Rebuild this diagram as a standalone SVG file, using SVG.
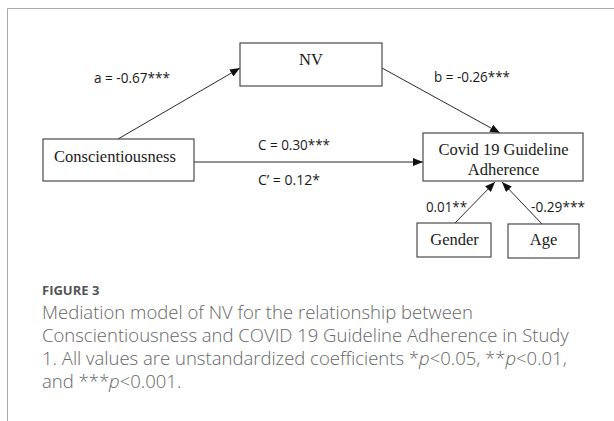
<svg xmlns="http://www.w3.org/2000/svg" width="614" height="421" viewBox="0 0 614 421">
<defs>
<style>
.box{fill:#fff;stroke:#4a4a4a;stroke-width:1.2}
.node{font-family:"Liberation Serif","Times New Roman",serif;font-size:16.5px;fill:#1a1a1a}
.lbl{font-family:"Open Sans","Liberation Sans",Arial,sans-serif;font-size:14.5px;fill:#1a1a1a}
.conn line{stroke:#2a2a2a;stroke-width:1}
.cap{font-family:"Open Sans","Liberation Sans",Arial,sans-serif;font-weight:300;font-size:18.5px;fill:#666}
.fig{font-family:"Open Sans","Liberation Sans",Arial,sans-serif;font-weight:700;font-size:13px;fill:#555}
.frame{stroke:#aaa;stroke-width:1;fill:none}
</style>
<marker id="ah" markerUnits="userSpaceOnUse" markerWidth="10" markerHeight="8" refX="10" refY="4" orient="auto">
<path d="M0,0 L10,4 L0,8 z" fill="#111"/>
</marker>
</defs>
<rect width="614" height="421" fill="#fff"/>
<path class="frame" d="M7.5,421 V8.5 H614"/>
<g id="connectors" class="conn">
<line x1="118" y1="139" x2="240" y2="68" marker-end="url(#ah)"/>
<line x1="382" y1="68" x2="500" y2="133" marker-end="url(#ah)"/>
<line x1="194" y1="162" x2="423" y2="162" marker-end="url(#ah)"/>
<line x1="455" y1="223" x2="495" y2="182" marker-end="url(#ah)"/>
<line x1="542" y1="224" x2="502" y2="182" marker-end="url(#ah)"/>
</g>
<g id="node-nv">
<rect class="box" x="240" y="43" width="142" height="43"/>
<text class="node" x="311" y="65" text-anchor="middle">NV</text>
</g>
<g id="node-conscientiousness">
<rect class="box" x="43" y="139" width="151" height="42"/>
<text class="node" x="54" y="162">Conscientiousness</text>
</g>
<g id="node-covid">
<rect class="box" x="423" y="133" width="160" height="48"/>
<text class="node" x="503.5" y="155" text-anchor="middle">Covid 19 Guideline</text>
<text class="node" x="503.5" y="175" text-anchor="middle">Adherence</text>
</g>
<g id="node-gender">
<rect class="box" x="417" y="223" width="74" height="34"/>
<text class="node" x="454.5" y="245" text-anchor="middle">Gender</text>
</g>
<g id="node-age">
<rect class="box" x="508" y="224" width="71" height="34"/>
<text class="node" x="543.5" y="245" text-anchor="middle">Age</text>
</g>
<g id="labels">
<text class="lbl" x="94" y="83" textLength="76" lengthAdjust="spacingAndGlyphs">a = -0.67***</text>
<text class="lbl" x="434" y="82" textLength="76" lengthAdjust="spacingAndGlyphs">b = -0.26***</text>
<text class="lbl" x="258" y="150" textLength="72" lengthAdjust="spacingAndGlyphs">C = 0.30***</text>
<text class="lbl" x="258" y="185" textLength="62" lengthAdjust="spacingAndGlyphs">C’ = 0.12*</text>
<text class="lbl" x="426" y="212" textLength="41" lengthAdjust="spacingAndGlyphs">0.01**</text>
<text class="lbl" x="531" y="212" textLength="54" lengthAdjust="spacingAndGlyphs">-0.29***</text>
</g>
<g id="caption">
<text class="fig" x="42" y="295">FIGURE 3</text>
<text class="cap" x="42" y="319">Mediation model of NV for the relationship between</text>
<text class="cap" x="42" y="342">Conscientiousness and COVID 19 Guideline Adherence in Study</text>
<text class="cap" x="42" y="365">1. All values are unstandardized coefficients *<tspan font-style="italic">p</tspan>&lt;0.05, **<tspan font-style="italic">p</tspan>&lt;0.01,</text>
<text class="cap" x="42" y="388">and ***<tspan font-style="italic">p</tspan>&lt;0.001.</text>
</g>
</svg>
